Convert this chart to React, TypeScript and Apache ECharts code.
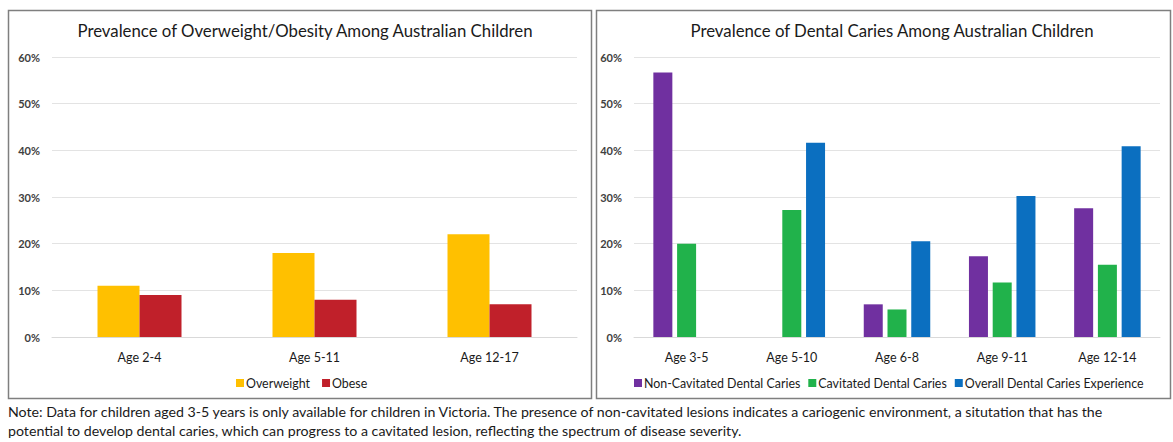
import React, { useEffect, useRef } from "react";
import * as echarts from "echarts";

const obesityCategories = ["Age 2-4", "Age 5-11", "Age 12-17"];
const overweightValues = [11, 18, 22];
const obeseValues = [9, 8, 7];

const cariesCategories = ["Age 3-5", "Age 5-10", "Age 6-8", "Age 9-11", "Age 12-14"];
const nonCavitatedValues: (number | null)[] = [56.7, null, 7, 17.3, 27.6];
const cavitatedValues: (number | null)[] = [20, 27.2, 5.9, 11.7, 15.5];
const overallValues: (number | null)[] = [null, 41.6, 20.5, 30.2, 40.9];

const yTicks = { min: 0, max: 60, interval: 10 };

const titleLeft = "Prevalence of Overweight/Obesity Among Australian Children";
const titleRight = "Prevalence of Dental Caries Among Australian Children";
const noteLine1 =
  "Note: Data for children aged 3-5 years is only available for children in Victoria. The presence of non-cavitated lesions indicates a cariogenic environment, a situtation that has the";
const noteLine2 =
  "potential to develop dental caries, which can progress to a cavitated lesion, reflecting the spectrum of disease severity.";

const FONT = "Lato, 'Open Sans', sans-serif";

export default function App() {
  const ref = useRef<HTMLDivElement>(null);
  useEffect(() => {
    if (!ref.current) return;
    const chart = echarts.init(ref.current, null, { renderer: "svg" });
    const yAxisBase = {
      type: "value",
      min: yTicks.min,
      max: yTicks.max,
      interval: yTicks.interval,
      axisLabel: { formatter: "{value}%", color: "#404040", fontSize: 11, fontFamily: FONT, fontWeight: "bold", margin: 12 },
      axisLine: { show: false },
      axisTick: { show: false },
      splitLine: { lineStyle: { color: "#e3e3e3", width: 1 } },
    };
    const xAxisBase = {
      type: "category",
      axisLine: { lineStyle: { color: "#d9d9d9" } },
      axisTick: { show: false },
      axisLabel: { color: "#1a1a1a", fontSize: 12.5, fontFamily: FONT, margin: 14 },
    };
    const legendText = { fontSize: 12.4, color: "#1a1a1a", fontFamily: FONT, padding: [0, 0, 0, -3] };
    chart.setOption({
      animation: false,
      backgroundColor: "#ffffff",
      textStyle: { fontFamily: FONT },
      title: [
        { text: titleLeft, left: 300, top: 17, textAlign: "center", textStyle: { fontSize: 16.8, fontWeight: "normal", color: "#1a1a1a", fontFamily: FONT } },
        { text: titleRight, left: 887, top: 17, textAlign: "center", textStyle: { fontSize: 16.8, fontWeight: "normal", color: "#1a1a1a", fontFamily: FONT } },
      ],
      legend: [
        {
          data: ["Overweight", "Obese"],
          left: 231,
          top: 372,
          itemWidth: 8,
          itemHeight: 8,
          itemGap: 12,
          icon: "rect",
          textStyle: legendText,
        },
        {
          data: ["Non-Cavitated Dental Caries", "Cavitated Dental Caries", "Overall Dental Caries Experience"],
          left: 629,
          top: 372,
          itemWidth: 8,
          itemHeight: 8,
          itemGap: 8,
          icon: "rect",
          textStyle: legendText,
        },
      ],
      grid: [
        { left: 52, right: 596, top: 57, bottom: 105 },
        { left: 634, right: 13, top: 57, bottom: 105 },
      ],
      xAxis: [
        { ...xAxisBase, gridIndex: 0, data: obesityCategories },
        { ...xAxisBase, gridIndex: 1, data: cariesCategories },
      ],
      yAxis: [
        { ...yAxisBase, gridIndex: 0 },
        { ...yAxisBase, gridIndex: 1 },
      ],
      series: [
        { name: "Overweight", type: "bar", xAxisIndex: 0, yAxisIndex: 0, data: overweightValues, barWidth: 42, barGap: "0%", itemStyle: { color: "#FFC000" } },
        { name: "Obese", type: "bar", xAxisIndex: 0, yAxisIndex: 0, data: obeseValues, barWidth: 42, barGap: "0%", itemStyle: { color: "#C0202A" } },
        { name: "Non-Cavitated Dental Caries", type: "bar", xAxisIndex: 1, yAxisIndex: 1, data: nonCavitatedValues, barWidth: 19, barGap: "25%", itemStyle: { color: "#7030A0" } },
        { name: "Cavitated Dental Caries", type: "bar", xAxisIndex: 1, yAxisIndex: 1, data: cavitatedValues, barWidth: 19, barGap: "25%", itemStyle: { color: "#21B24B" } },
        { name: "Overall Dental Caries Experience", type: "bar", xAxisIndex: 1, yAxisIndex: 1, data: overallValues, barWidth: 19, barGap: "25%", itemStyle: { color: "#0B6FC0" } },
      ],
      graphic: [
        { type: "rect", shape: { x: 8.5, y: 10.5, width: 583, height: 388 }, style: { fill: "none", stroke: "#7f7f7f", lineWidth: 1.5 }, silent: true },
        { type: "rect", shape: { x: 596.5, y: 10.5, width: 574, height: 388 }, style: { fill: "none", stroke: "#7f7f7f", lineWidth: 1.5 }, silent: true },
        { type: "text", left: 8, top: 404, style: { text: noteLine1, fontSize: 14.2, fill: "#1a1a1a", fontFamily: FONT } },
        { type: "text", left: 8, top: 423, style: { text: noteLine2, fontSize: 14.2, fill: "#1a1a1a", fontFamily: FONT } },
      ],
    });
    return () => chart.dispose();
  }, []);
  return <div ref={ref} style={{ position: "absolute", left: 0, top: 0, width: 1173, height: 442 }} />;
}
